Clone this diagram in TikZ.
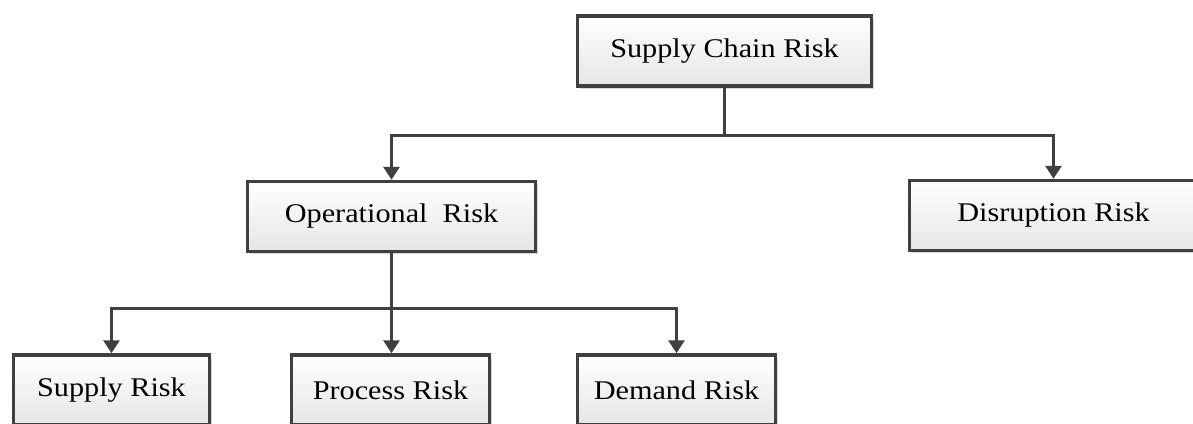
\documentclass[tikz,border=0pt]{standalone}
\usepackage{fontspec}
\setmainfont[FakeStretch=1.12]{Liberation Serif}
\usetikzlibrary{arrows.meta,shadows}
\definecolor{edge}{HTML}{404040}
\begin{document}
\begin{tikzpicture}[x=1pt,y=-1pt,
  riskbox/.style={draw=edge, line width=3.5pt, top color=white, bottom color=black!10,
    minimum height=70pt, inner sep=0pt, font=\fontsize{27}{30}\selectfont,
    drop shadow={shadow xshift=2.5pt, shadow yshift=-2.5pt, fill=black!30, opacity=0.5}},
  link/.style={draw=edge, line width=3pt},
  tip/.style={-{Triangle[length=13pt,width=16pt]}}]
  \useasboundingbox (0,0) rectangle (1193,423);
  \clip (0,0) rectangle (1193,423);

  % boxes
  \node[riskbox, minimum width=294pt] (top)  at (724.5,51)    {Supply Chain Risk};
  \node[riskbox, minimum width=288pt] (oper) at (391.5,216.5) {Operational\ \ Risk};
  \node[riskbox, minimum width=288pt] (disr) at (1053.5,215.5){Disruption Risk};
  \node[riskbox, minimum width=196pt] (sup)  at (111.5,390)   {Supply Risk};
  \node[riskbox, minimum width=198pt] (proc) at (390.5,390)   {Process Risk};
  \node[riskbox, minimum width=198pt] (dem)  at (676.5,390)   {Demand Risk};

  % first level connectors
  \coordinate (j1) at (top.south |- 0,135);
  \draw[link] (top.south) -- (j1);
  \draw[link,tip] (j1) -| (oper.north);
  \draw[link,tip] (j1) -| (disr.north);

  % second level connectors
  \coordinate (j2) at (oper.south |- 0,308);
  \draw[link] (oper.south) -- (j2);
  \draw[link,tip] (j2) -| (sup.north);
  \draw[link,tip] (j2) -- (proc.north -| j2);
  \draw[link,tip] (j2) -| (dem.north);
\end{tikzpicture}
\end{document}
